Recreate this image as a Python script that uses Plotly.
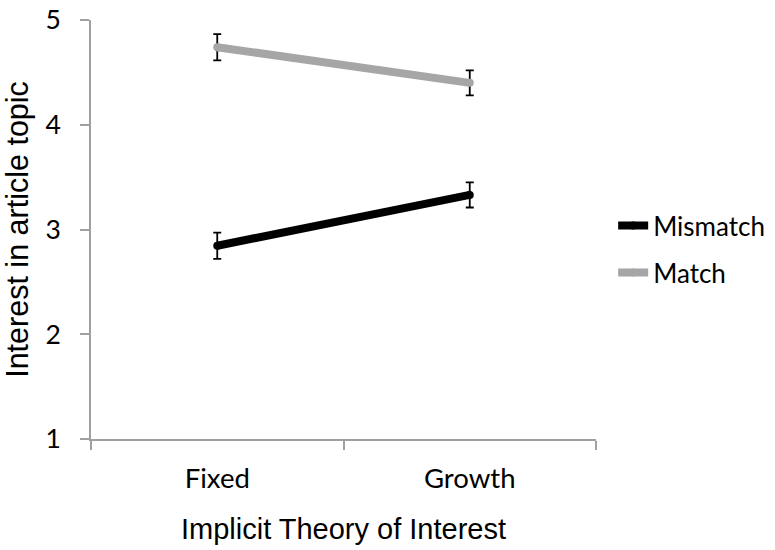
import plotly.graph_objects as go

categories = ["Fixed", "Growth"]
mismatch = [2.845, 3.33]
mismatch_err = [0.125, 0.12]
match = [4.74, 4.40]
match_err = [0.125, 0.12]
y_ticks = [1, 2, 3, 4, 5]

FONT = "Lato"
TITLE_FONT = "Liberation Sans"

fig = go.Figure()
series = [
    ("Mismatch", mismatch, mismatch_err, "#000000", "g1"),
    ("Match", match, match_err, "#a6a6a6", "g2"),
]
for name, vals, err, color, grp in series:
    fig.add_trace(go.Scatter(
        x=categories, y=vals, name=name, mode="lines+markers",
        line=dict(color=color, width=8),
        marker=dict(color=color, size=8),
        error_y=dict(type="data", array=err, color="#000000", thickness=1.8, width=4),
        legendgroup=grp,
    ))

fig.update_layout(
    width=775, height=550,
    margin=dict(l=91, r=179, t=20, b=111, autoexpand=False),
    paper_bgcolor="white", plot_bgcolor="white",
    font=dict(family=FONT, size=26, color="#000000"),
    showlegend=True,
    legend=dict(x=1.034, y=0.453, xanchor="left", yanchor="middle",
                font=dict(size=26), tracegroupgap=10, traceorder="grouped",
                itemwidth=30, bgcolor="rgba(0,0,0,0)"),
    xaxis=dict(
        type="category", range=[-0.5, 1.5], tickson="boundaries",
        showline=True, linecolor="#a0a0a0", linewidth=1.5,
        ticks="outside", ticklen=9, tickcolor="#a0a0a0", tickwidth=1.5,
        showgrid=False, zeroline=False, automargin=False,
        ticklabelstandoff=14,
        title=dict(text="Implicit Theory of Interest",
                   font=dict(family=TITLE_FONT, size=29), standoff=26),
        tickfont=dict(size=27.5),
    ),
    yaxis=dict(
        range=[1, 5], tickvals=y_ticks, showline=True, linecolor="#a0a0a0", linewidth=1.5,
        ticks="outside", ticklen=9, tickcolor="#a0a0a0", tickwidth=1.5,
        showgrid=False, zeroline=False, automargin=False,
        ticklabelstandoff=14,
        title=dict(text="Interest in article topic",
                   font=dict(family=TITLE_FONT, size=30.5), standoff=29),
        tickfont=dict(size=26.5),
    ),
)

fig.write_html("out.html", config={"displayModeBar": False},
               post_script="document.body.style.margin='0';")
